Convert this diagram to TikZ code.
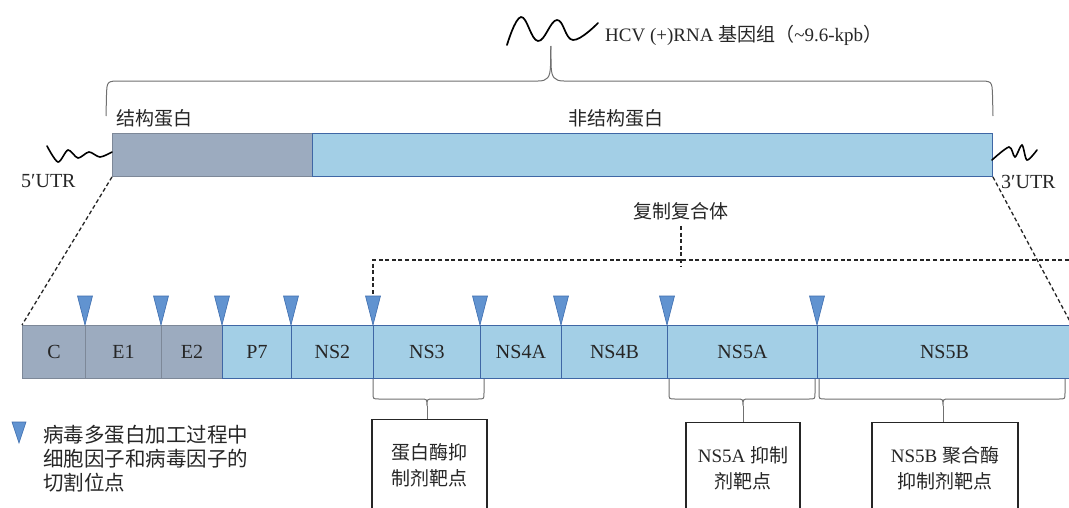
\documentclass[tikz,border=0pt]{standalone}
\usepackage{fontspec}
\setmainfont{Liberation Serif}
\newfontfamily\cjk{Noto Sans CJK SC}
\definecolor{grayseg}{HTML}{9CABBF}
\definecolor{grayedge}{HTML}{7D8898}
\definecolor{blueseg}{HTML}{A3CFE6}
\definecolor{blueedge}{HTML}{3F67A5}
\definecolor{trifill}{HTML}{6193D0}
\definecolor{triedge}{HTML}{3E6DAE}
\definecolor{txt}{HTML}{262626}
\definecolor{brc}{HTML}{707070}
\begin{document}
\begin{tikzpicture}[x=1pt,y=-1pt,
  font=\fontsize{19}{23}\selectfont, text=txt,
  segg/.style={draw=grayedge, fill=grayseg, line width=0.9pt, inner sep=0pt, anchor=north west, minimum height=53pt, font=\fontsize{20}{24}\selectfont},
  segb/.style={draw=blueedge, fill=blueseg, line width=0.9pt, inner sep=0pt, anchor=north west, minimum height=53pt, font=\fontsize{20}{24}\selectfont},
  tri/.style={draw=triedge, fill=trifill, line width=0.6pt},
  dsh/.style={draw=black!85, line width=1.3pt, dash pattern=on 4pt off 2.6pt},
  bracel/.style={draw=brc, line width=1pt},
  wave/.style={draw=black, line width=1.7pt, line cap=round},
  target/.style={draw=black!85, line width=1.2pt, anchor=north, minimum height=92pt, align=center, inner sep=0pt},
  lbl/.style={inner sep=0pt}]
\clip (0,0) rectangle (1069,507);
\fill[white] (0,0) rectangle (1069,507);

% genome bar
\node[segg, minimum width=200pt, minimum height=43pt] (sp) at (112,133) {};
\node[segb, minimum width=680pt, minimum height=43pt] (nsp) at (312,133) {};
\node[lbl, anchor=west] (spl) at (116,118) {\cjk 结构蛋白};
\node[lbl] (nspl) at (616,118) {\cjk 非结构蛋白};

% top brace
\draw[bracel] (106,116) -- (106.5,95) .. controls (107,81) .. (121,81) -- (538,81)
  .. controls (548,81) and (550,77) .. (550.5,66) -- (550.8,46);
\draw[bracel] (550.8,46) -- (551.1,66) .. controls (551.5,77) and (554,81) .. (564,81)
  -- (978,81) .. controls (992,81) .. (992.5,95) -- (993,116);

% HCV wave + label
\draw[wave] plot[smooth, tension=0.7] coordinates {(507,45) (521,17) (538,41) (557,20) (573,40) (598,23)};
\node[lbl, anchor=west] (hcv) at (605,35) {HCV (+)RNA {\cjk 基因组（}\textasciitilde 9.6-kpb{\cjk ）}};

% UTRs
\draw[wave, line width=1.6pt] plot[smooth, tension=0.5] coordinates {(47,146) (58,162) (68,150) (78,158) (89,152) (100,157) (112,152)};
\node[lbl, anchor=west, font=\fontsize{20}{24}\selectfont] (utr5) at (21,181) {5′UTR};
\draw[wave, line width=1.6pt] plot[smooth, tension=0.5] coordinates {(992,160) (1009,147) (1015,157) (1022,145) (1027,160) (1037,150)};
\node[lbl, anchor=west, font=\fontsize{20}{24}\selectfont] (utr3) at (1001,182) {3′UTR};

% polyprotein segments
\foreach \n/\x/\w/\s in {C/22/63/g, E1/85/76/g, E2/161/61/g, P7/222/69/b, NS2/291/82/b, NS3/373/107/b, NS4A/480/81/b, NS4B/561/106/b, NS5A/667/150/b, NS5B/817/254/b}
  \node[seg\s, minimum width=\w pt] (\n) at (\x,325) {\n};

% cleavage triangles
\foreach \x in {85,161,222,291,373,480,561,667,817}
  \draw[tri] ({\x-7.5},296) -- ({\x+7.5},296) -- (\x,325) -- cycle;

% zoom dashed lines
\draw[dsh] (sp.south west) -- (C.north west);
\draw[dsh] (nsp.south east) -- (NS5B.north east);

% replication complex
\node[lbl] (rc) at (681,211) {\cjk 复制复合体};
\coordinate (rcL) at (373,260);
\coordinate (rcR) at (1069,260);
\coordinate (rcT) at (373,296);
\draw[dsh] ([yshift=-6pt]rc.south) -- ([yshift=-6pt]rc.south |- rcL);
\draw[dsh] (rcR) -- (rcL) -- (rcT);

% lower braces
\draw[bracel] (373,379) -- (373,393) .. controls (373,399) .. (379,399) -- (421,399)
  .. controls (427,399) .. (427,406) .. controls (427,399) .. (433,399) -- (478,399)
  .. controls (484,399) .. (484,393) -- (484,379);
\draw[bracel] (669,379) -- (669,393) .. controls (669,399) .. (675,399) -- (737,399)
  .. controls (743,399) .. (743,406) .. controls (743,399) .. (749,399) -- (809,399)
  .. controls (815,399) .. (815,393) -- (815,379);
\draw[bracel] (819,379) -- (819,393) .. controls (819,399) .. (825,399) -- (937,399)
  .. controls (943,399) .. (943,406) .. controls (943,399) .. (949,399) -- (1059,399)
  .. controls (1065,399) .. (1065,393) -- (1065,379);

% target boxes
\node[target, minimum width=115pt] (t1) at (429.5,419) {\cjk 蛋白酶抑\\[3pt]\cjk 制剂靶点};
\node[target, minimum width=114pt] (t2) at (743,422) {NS5A {\cjk 抑制}\\[3pt]\cjk 剂靶点};
\node[target, minimum width=146pt] (t3) at (945,422) {NS5B {\cjk 聚合酶}\\[3pt]\cjk 抑制剂靶点};
\draw[bracel] (427,406) -- (t1.north -| 427,0);
\draw[bracel] (743,406) -- (t2.north);
\draw[bracel] (943,406) -- (t3.north -| 943,0);

% legend
\draw[tri] (12,422) -- (26,422) -- (19,443) -- cycle;
\node[lbl, anchor=north west, align=left, font=\cjk\fontsize{20.5}{24}\selectfont] (leg) at (43,425)
  {病毒多蛋白加工过程中\\细胞因子和病毒因子的\\切割位点};
\end{tikzpicture}
\end{document}
